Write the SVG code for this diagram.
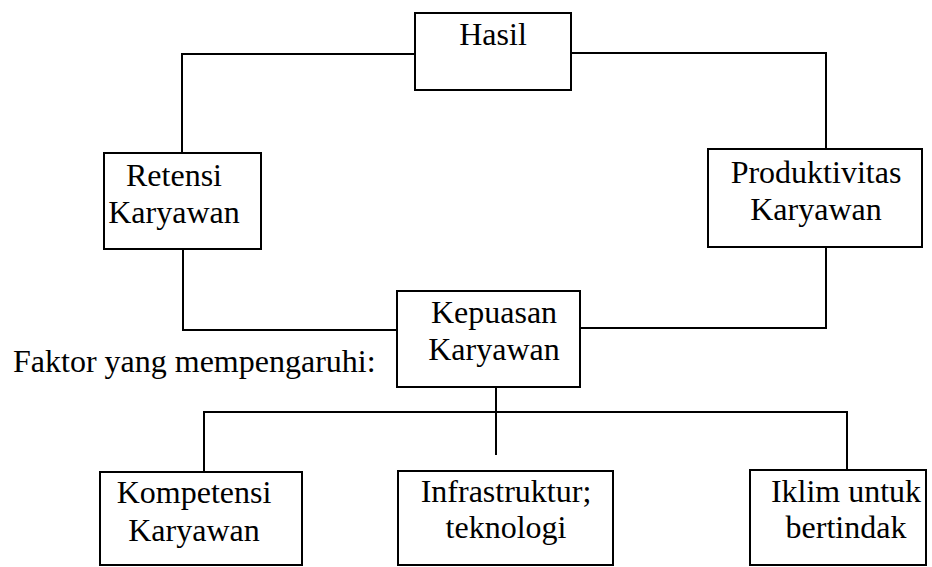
<svg xmlns="http://www.w3.org/2000/svg" width="932" height="567" viewBox="0 0 932 567">
  <style>
    .box { fill: #ffffff; stroke: #000000; stroke-width: 2; }
    .wire { fill: none; stroke: #000000; stroke-width: 2; }
    .lbl { font-family: 'Liberation Serif', 'DejaVu Serif', serif; font-size: 32px; fill: #000000; }
    .c { text-anchor: middle; }
  </style>
  <rect width="932" height="567" fill="#ffffff"/>

  <!-- connectors -->
  <g id="connectors">
    <!-- Hasil to Retensi and Produktivitas -->
    <polyline class="wire" points="415,54 182,54 182,153"/>
    <polyline class="wire" points="571,53 826,53 826,149"/>
    <!-- Retensi and Produktivitas to Kepuasan -->
    <polyline class="wire" points="183,249 183,330 397,330"/>
    <polyline class="wire" points="826,247 826,328 580,328"/>
    <!-- Kepuasan to the three factors -->
    <line class="wire" x1="496" y1="387" x2="496" y2="455"/>
    <polyline class="wire" points="204,472 204,412 847,412 847,470"/>
  </g>

  <g id="hasil">
    <rect class="box" x="415" y="13" width="156" height="77"/>
    <text class="lbl c" x="493" y="45">Hasil</text>
  </g>

  <g id="retensi">
    <rect class="box" x="104" y="153" width="157" height="96"/>
    <text class="lbl c" x="174" y="186">Retensi</text>
    <text class="lbl c" x="174" y="223">Karyawan</text>
  </g>

  <g id="produktivitas">
    <rect class="box" x="708" y="149" width="214" height="98"/>
    <text class="lbl c" x="816" y="183">Produktivitas</text>
    <text class="lbl c" x="816" y="220">Karyawan</text>
  </g>

  <g id="kepuasan">
    <rect class="box" x="397" y="291" width="183" height="96"/>
    <text class="lbl c" x="494" y="323">Kepuasan</text>
    <text class="lbl c" x="494" y="360">Karyawan</text>
  </g>

  <g id="label-faktor">
    <text class="lbl" x="13" y="372">Faktor yang mempengaruhi:</text>
  </g>

  <g id="kompetensi">
    <rect class="box" x="100" y="472" width="202" height="93"/>
    <text class="lbl c" x="194" y="503">Kompetensi</text>
    <text class="lbl c" x="194" y="541">Karyawan</text>
  </g>

  <g id="infrastruktur">
    <rect class="box" x="398" y="471" width="215" height="94"/>
    <text class="lbl c" x="506" y="502">Infrastruktur;</text>
    <text class="lbl c" x="506" y="538">teknologi</text>
  </g>

  <g id="iklim">
    <rect class="box" x="750" y="470" width="176" height="95"/>
    <text class="lbl c" x="846" y="502">Iklim untuk</text>
    <text class="lbl c" x="846" y="538">bertindak</text>
  </g>
</svg>
